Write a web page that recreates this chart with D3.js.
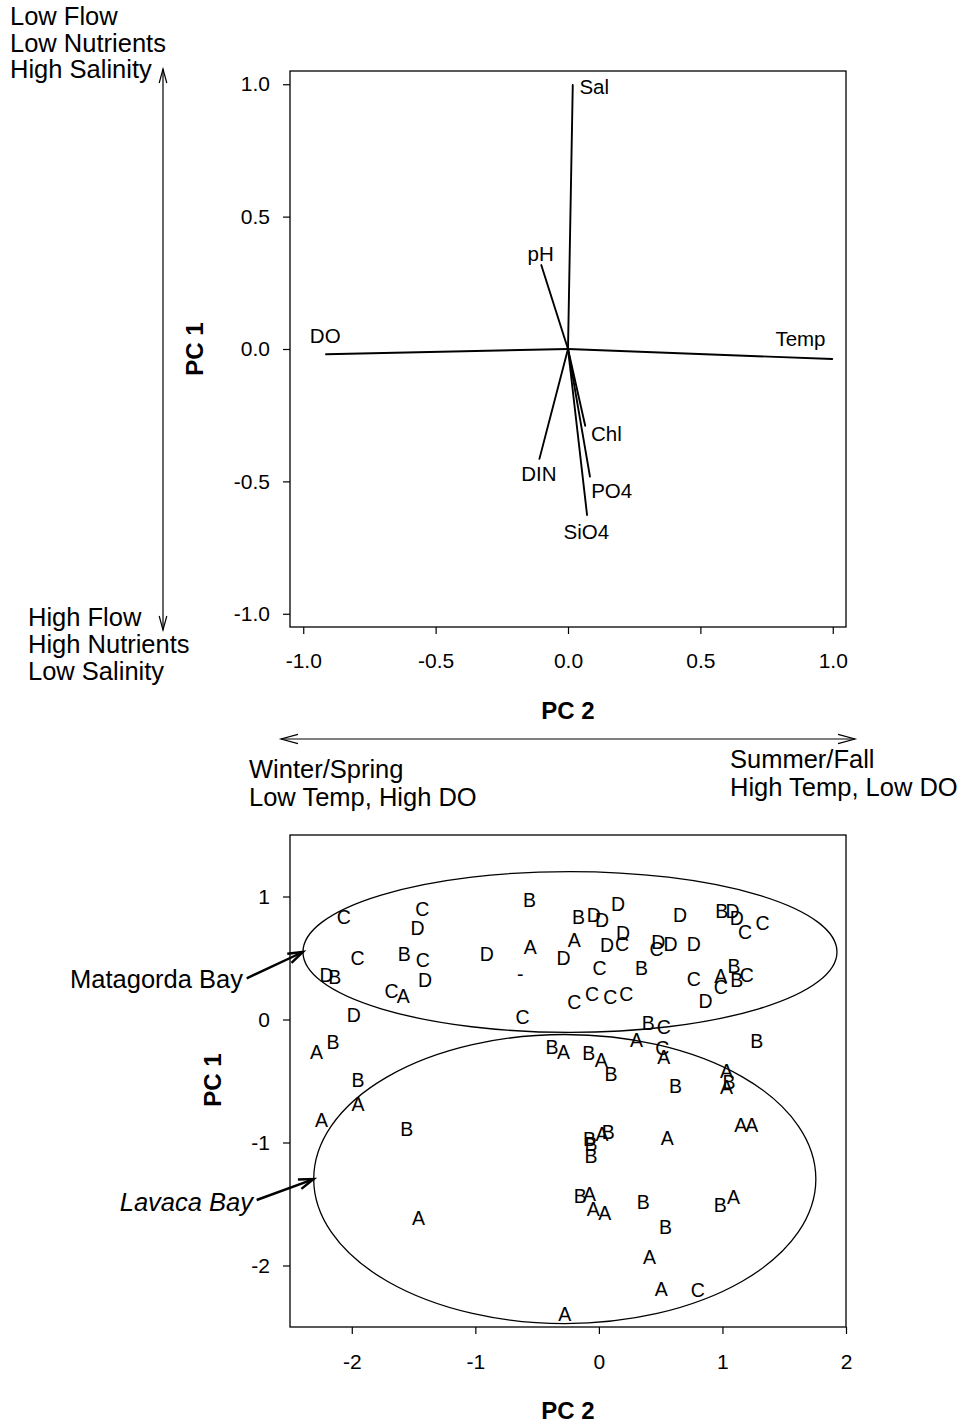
<!DOCTYPE html>
<html>
<head>
<meta charset="utf-8">
<script src="https://cdn.jsdelivr.net/npm/d3@7"></script>
<style>
  body { margin: 0; background: #fff; }
  svg { display: block; }
  text { font-family: "Liberation Sans", Arial, Helvetica, sans-serif; fill: #000; }
</style>
</head>
<body>
<svg id="chart" width="967" height="1426"></svg>
<script>
// ---- Variable loadings (x = PC 2, y = PC 1) ----
const variables = ["Sal", "pH", "DO", "Temp", "Chl", "DIN", "PO4", "SiO4"];
const loadPC2 = [0.018, -0.101, -0.914, 0.998, 0.065, -0.108, 0.083, 0.072];
const loadPC1 = [0.997, 0.317, -0.020, -0.038, -0.290, -0.415, -0.482, -0.627];
// Where each variable name is written
const labelPC2 = [0.099, -0.103, -0.917, 0.878, 0.145, -0.110, 0.165, 0.069];
const labelPC1 = [0.990, 0.359, 0.050, 0.036, -0.321, -0.473, -0.536, -0.693];

const loadTicks = [-1, -0.5, 0, 0.5, 1];
const scoreTicksX = [-2, -1, 0, 1, 2];
const scoreTicksY = [-2, -1, 0, 1];

// ---- Sample scores, labelled by station ----
const scoreLabel = [
  "C","C","D","B","C","B","C","D","A","D","A","D","B","C","A","D","-","D","C",
  "B","D","D","D","D","D","C","C","B","C","C","C","C","D","D","C","D","D","B",
  "D","D","C","C","C","A","C","D","B","B","C","B","C",
  "A","B","B","A","A","B","B","A","B","A","B","A","C","A","B","B","A","B","A",
  "A","A","A","B","A","B","B","B","B","A","A","A","B","B","B","A","A","A","A",
  "C","A"
];
const scorePC2 = [
  -2.065, -1.430, -1.467, -0.561, -1.954, -1.576, -1.426, -0.907, -0.556, -0.286,
  -0.199, -2.205, -2.138, -1.678, -1.584, -1.408, -0.637, -1.984, -0.618,
  -0.164, -0.042, 0.026, 0.156, 0.067, 0.196, 0.188, 0.006, 0.345, -0.199,
  -0.055, 0.093, 0.221, 0.656, 0.480, 0.467, 0.580, 0.769, 0.994, 1.081,
  1.116, 1.183, 1.324, 0.769, 0.986, 0.986, 0.864, 1.094, 1.116, 1.197,
  0.399, 0.526,
  -2.286, -2.152, -1.949, -1.949, -2.246, -1.556, -0.380, -0.286, -0.083, 0.020,
  0.099, 0.304, 0.513, 0.526, 0.621, 1.278, 1.032, 1.053, 1.032, 1.148,
  1.237, 0.553, -0.075, 0.026, 0.075, -0.063, -0.063, -0.150, -0.075, -0.045,
  0.047, 0.360, 0.540, 0.983, 1.090, -1.460, 0.409, 0.505, 0.800, -0.277
];
const scorePC1 = [
  0.832, 0.900, 0.742, 0.973, 0.502, 0.534, 0.485, 0.534, 0.593, 0.502,
  0.648, 0.358, 0.344, 0.228, 0.187, 0.325, 0.366, 0.038, 0.024,
  0.832, 0.846, 0.813, 0.935, 0.607, 0.702, 0.615, 0.420, 0.420, 0.141,
  0.209, 0.181, 0.209, 0.851, 0.634, 0.575, 0.615, 0.615, 0.886, 0.886,
  0.827, 0.710, 0.783, 0.331, 0.350, 0.263, 0.154, 0.439, 0.323, 0.358,
  -0.030, -0.057,
  -0.266, -0.185, -0.490, -0.691, -0.821, -0.889, -0.225, -0.266, -0.271, -0.333,
  -0.447, -0.165, -0.230, -0.307, -0.537, -0.171, -0.415, -0.510, -0.550, -0.854,
  -0.854, -0.962, -0.970, -0.929, -0.916, -1.016, -1.106, -1.431, -1.417, -1.539,
  -1.575, -1.485, -1.689, -1.512, -1.445, -1.612, -1.927, -2.189, -2.198, -2.398
];

// ---- Bay groupings (ellipses in score space) ----
const bays = ["Matagorda Bay", "Lavaca Bay"];
const bayCenterPC2 = [-0.234, -0.276];
const bayCenterPC1 = [0.549, -1.297];
const bayRadiusPC2 = [2.161, 2.032];
const bayRadiusPC1 = [0.654, 1.175];

// ---------------------------------------------------------------
const svg = d3.select("#chart");
svg.append("rect").attr("width", 967).attr("height", 1426).attr("fill", "#fff");

const TICK_FS = 21;
const AXIS_TITLE_FS = 24;
const NOTE_FS = 25.5;

// plain hyphen for negative tick values
const hyphenate = f => d => f(d).replace("\u2212", "-");

// Draws a straight line with open arrowheads at the chosen ends
function arrowLine(g, x1, y1, x2, y2, opts) {
  const o = Object.assign({ start: false, end: true, len: 15, half: 4.2, width: 1.2 }, opts);
  g.append("line").attr("x1", x1).attr("y1", y1).attr("x2", x2).attr("y2", y2)
    .attr("stroke", "#000").attr("stroke-width", o.width);
  const head = (tx, ty, fx, fy) => {
    const a = Math.atan2(ty - fy, tx - fx);
    const ang = Math.atan2(o.half, o.len);
    const l = Math.hypot(o.half, o.len);
    const p1 = [tx - l * Math.cos(a - ang), ty - l * Math.sin(a - ang)];
    const p2 = [tx - l * Math.cos(a + ang), ty - l * Math.sin(a + ang)];
    g.append("path")
      .attr("d", `M${p1[0]},${p1[1]}L${tx},${ty}L${p2[0]},${p2[1]}`)
      .attr("fill", "none").attr("stroke", "#000").attr("stroke-width", o.width)
      .attr("stroke-linejoin", "miter");
  };
  if (o.end) head(x2, y2, x1, y1);
  if (o.start) head(x1, y1, x2, y2);
}

function styleAxis(g, fs) {
  g.select(".domain").remove();
  g.selectAll(".tick line").attr("stroke", "#000").attr("stroke-width", 1.2);
  g.selectAll(".tick text").attr("font-size", fs)
    .attr("font-family", "'Liberation Sans', Arial, sans-serif").attr("fill", "#000");
}

// ================= Loadings panel =================
const xL = d3.scaleLinear().domain([-1.05, 1.05]).range([290, 846]);
const yL = d3.scaleLinear().domain([-1.05, 1.05]).range([627, 71]);

const loadPanel = svg.append("g");
loadPanel.append("rect")
  .attr("x", xL.range()[0]).attr("y", yL.range()[1])
  .attr("width", xL.range()[1] - xL.range()[0])
  .attr("height", yL.range()[0] - yL.range()[1])
  .attr("fill", "none").attr("stroke", "#000").attr("stroke-width", 1.3);

const fmt1 = hyphenate(d3.format(".1f"));
loadPanel.append("g").attr("transform", `translate(0,${yL.range()[0]})`)
  .call(d3.axisBottom(xL).tickValues(loadTicks).tickSize(7).tickPadding(19).tickFormat(fmt1))
  .call(g => styleAxis(g, TICK_FS));
loadPanel.append("g").attr("transform", `translate(${xL.range()[0]},0)`)
  .call(d3.axisLeft(yL).tickValues(loadTicks).tickSize(7).tickPadding(13).tickFormat(fmt1))
  .call(g => styleAxis(g, TICK_FS));

// vectors from the origin
variables.forEach((v, i) => {
  loadPanel.append("line")
    .attr("x1", xL(0)).attr("y1", yL(0))
    .attr("x2", xL(loadPC2[i])).attr("y2", yL(loadPC1[i]))
    .attr("stroke", "#000").attr("stroke-width", 1.9).attr("stroke-linecap", "round");
});
loadPanel.selectAll("text.var").data(variables).join("text")
  .attr("class", "var")
  .attr("x", (d, i) => xL(labelPC2[i]))
  .attr("y", (d, i) => yL(labelPC1[i]) + 7)
  .attr("text-anchor", "middle")
  .attr("font-size", 20.5)
  .text(d => d);

// axis titles
loadPanel.append("text").attr("x", (xL.range()[0] + xL.range()[1]) / 2).attr("y", 719)
  .attr("text-anchor", "middle").attr("font-weight", "bold").attr("font-size", AXIS_TITLE_FS)
  .text("PC 2");
loadPanel.append("text")
  .attr("transform", `translate(${194 + 8.6},${yL(0)}) rotate(-90)`)
  .attr("text-anchor", "middle").attr("font-weight", "bold").attr("font-size", AXIS_TITLE_FS)
  .text("PC 1");

// interpretation notes for PC 1
const notes = svg.append("g").attr("font-size", NOTE_FS);
[["Low Flow", 24.5], ["Low Nutrients", 51.5], ["High Salinity", 78]].forEach(([t, y]) =>
  notes.append("text").attr("x", 10).attr("y", y).attr("font-size", NOTE_FS).text(t));
[["High Flow", 626], ["High Nutrients", 653], ["Low Salinity", 680]].forEach(([t, y]) =>
  notes.append("text").attr("x", 28).attr("y", y).attr("font-size", NOTE_FS).text(t));
arrowLine(notes, 163, 630, 163, 69, { start: true, end: true, len: 14, half: 3.8, width: 1.2 });

// interpretation notes for PC 2
arrowLine(notes, 281, 739, 855, 739, { start: true, end: true, len: 17, half: 4.6, width: 1.2 });
[["Winter/Spring", 778], ["Low Temp, High DO", 806]].forEach(([t, y]) =>
  notes.append("text").attr("x", 249).attr("y", y).attr("font-size", NOTE_FS).text(t));
[["Summer/Fall", 768], ["High Temp, Low DO", 796]].forEach(([t, y]) =>
  notes.append("text").attr("x", 730).attr("y", y).attr("font-size", NOTE_FS).text(t));

// ================= Scores panel =================
const xS = d3.scaleLinear().domain([-2.5, 2]).range([290, 846]);
const yS = d3.scaleLinear().domain([-2.5, 1.5]).range([1327, 835]);

const scorePanel = svg.append("g");
scorePanel.append("rect")
  .attr("x", xS.range()[0]).attr("y", yS.range()[1])
  .attr("width", xS.range()[1] - xS.range()[0])
  .attr("height", yS.range()[0] - yS.range()[1])
  .attr("fill", "none").attr("stroke", "#000").attr("stroke-width", 1.3);

const fmtInt = hyphenate(d3.format("d"));
scorePanel.append("g").attr("transform", `translate(0,${yS.range()[0]})`)
  .call(d3.axisBottom(xS).tickValues(scoreTicksX).tickSize(7).tickPadding(20).tickFormat(fmtInt))
  .call(g => styleAxis(g, TICK_FS));
scorePanel.append("g").attr("transform", `translate(${xS.range()[0]},0)`)
  .call(d3.axisLeft(yS).tickValues(scoreTicksY).tickSize(7).tickPadding(13).tickFormat(fmtInt))
  .call(g => styleAxis(g, TICK_FS));

// bay ellipses
bays.forEach((b, i) => {
  const cx = xS(bayCenterPC2[i]), cy = yS(bayCenterPC1[i]);
  const rx = xS(bayCenterPC2[i] + bayRadiusPC2[i]) - cx;
  const ry = cy - yS(bayCenterPC1[i] + bayRadiusPC1[i]);
  scorePanel.append("ellipse").attr("cx", cx).attr("cy", cy).attr("rx", rx).attr("ry", ry)
    .attr("fill", "none").attr("stroke", "#000").attr("stroke-width", 1.3);
});

// station letters
scorePanel.selectAll("text.pt").data(scoreLabel).join("text")
  .attr("class", "pt")
  .attr("x", (d, i) => xS(scorePC2[i]))
  .attr("y", (d, i) => yS(scorePC1[i]) + 7)
  .attr("text-anchor", "middle")
  .attr("font-size", 19.5)
  .text(d => d);

// bay labels pointing at their ellipse
const bayLabelPos = [[243, 988, "normal", 246.7, 978.3], [253, 1211, "italic", 256.7, 1200]];
bays.forEach((b, i) => {
  const [lx, ly, style, ax, ay] = bayLabelPos[i];
  svg.append("text").attr("x", lx).attr("y", ly).attr("text-anchor", "end")
    .attr("font-size", NOTE_FS).attr("font-style", style).text(b);
  const tipX = xS(bayCenterPC2[i] - bayRadiusPC2[i]);
  const tipY = yS(bayCenterPC1[i]);
  arrowLine(svg, ax, ay, tipX, tipY, { len: 15, half: 5, width: 2.4 });
});

// axis titles
scorePanel.append("text").attr("x", (xS.range()[0] + xS.range()[1]) / 2).attr("y", 1419)
  .attr("text-anchor", "middle").attr("font-weight", "bold").attr("font-size", AXIS_TITLE_FS)
  .text("PC 2");
scorePanel.append("text")
  .attr("transform", `translate(${212 + 8.6},1080) rotate(-90)`)
  .attr("text-anchor", "middle").attr("font-weight", "bold").attr("font-size", AXIS_TITLE_FS)
  .text("PC 1");
</script>
</body>
</html>
